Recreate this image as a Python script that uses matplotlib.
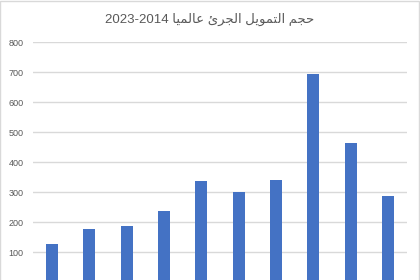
"""
Global venture funding 2014-2023, bar chart (Excel style).
"""

import matplotlib
matplotlib.use("Agg")
import matplotlib.pyplot as plt
from matplotlib.patches import Rectangle

years = ["2014", "2015", "2016", "2017", "2018", "2019", "2020", "2021", "2022", "2023"]
funding = [127, 178, 187, 237, 338, 300, 341, 693, 463, 287]
yticks = [0, 100, 200, 300, 400, 500, 600, 700, 800]
title = "حجم التمويل الجرئ عالميا 2023-2014"

# arabic contextual forms: (isolated, final, initial, medial), None = no left join
FORMS = {
    "ا": ("\ufe8d", "\ufe8e", None, None),
    "ل": ("\ufedd", "\ufede", "\ufedf", "\ufee0"),
    "ت": ("\ufe95", "\ufe96", "\ufe97", "\ufe98"),
    "و": ("\ufeed", "\ufeee", None, None),
    "ي": ("\ufef1", "\ufef2", "\ufef3", "\ufef4"),
    "ر": ("\ufead", "\ufeae", None, None),
    "ئ": ("\ufe89", "\ufe8a", "\ufe8b", "\ufe8c"),
    "ع": ("\ufec9", "\ufeca", "\ufecb", "\ufecc"),
    "م": ("\ufee1", "\ufee2", "\ufee3", "\ufee4"),
    "ح": ("\ufea1", "\ufea2", "\ufea3", "\ufea4"),
    "ج": ("\ufe9d", "\ufe9e", "\ufe9f", "\ufea0"),
}


def shape_word(word):
    out = []
    for i, ch in enumerate(word):
        if ch not in FORMS:
            out.append(ch)
            continue
        prev = word[i - 1] if i > 0 else None
        nxt = word[i + 1] if i + 1 < len(word) else None
        join_prev = prev in FORMS and FORMS[prev][2] is not None
        join_next = nxt in FORMS and FORMS[ch][2] is not None
        iso, fin, ini, med = FORMS[ch]
        if join_prev and join_next:
            out.append(med)
        elif join_prev:
            out.append(fin)
        elif join_next:
            out.append(ini)
        else:
            out.append(iso)
    return "".join(out)


def rtl(text):
    words = []
    for w in text.split(" ")[::-1]:
        if any(c in FORMS for c in w):
            words.append(shape_word(w)[::-1])
        else:
            words.append(w)
    return " ".join(words)


fig = plt.figure(figsize=(4.2, 2.8), dpi=100)
ax = fig.add_axes([0.0793, -0.0082, 0.889, 0.857])

x = range(len(years))
ax.bar(x, funding, width=0.32, color="#4472C4", zorder=3)

ax.set_xlim(-0.5, len(years) - 0.5)
ax.set_ylim(0, 800)
ax.set_yticks(yticks)
# year labels sit below the cropped edge of the picture
ax.set_xticks(list(x))
ax.tick_params(axis="y", length=0, pad=7, labelsize=6.5, labelcolor="#595959")
ax.tick_params(axis="x", length=0, labelbottom=False)
for lab in ax.get_yticklabels():
    lab.set_family("Liberation Sans")
ax.grid(axis="y", color="#D9D9D9", linewidth=1, zorder=0)
for s in ax.spines.values():
    s.set_visible(False)

fig.text(0.5, 0.93, rtl(title), ha="center", va="center", fontsize=9.5,
         color="#595959", family=["Liberation Sans", "DejaVu Sans"])

# chart area border
fig.patches.append(Rectangle((0.001, -0.1), 0.996, 1.097, transform=fig.transFigure,
                             fill=False, edgecolor="#D9D9D9", linewidth=1))

fig.savefig("out.png", dpi=100)
